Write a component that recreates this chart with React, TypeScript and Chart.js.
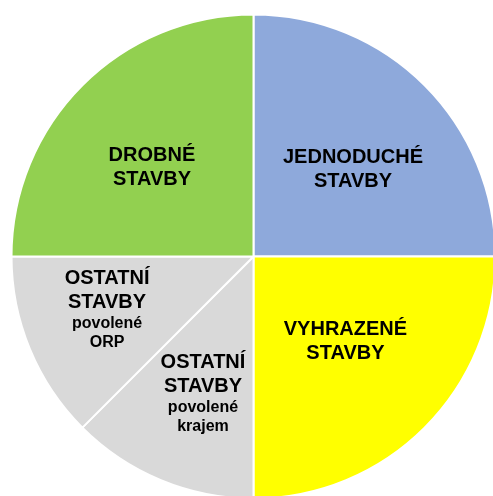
import React, { useEffect, useRef } from "react";
import { Chart, registerables } from "chart.js";

Chart.register(...registerables);

const categories = [
  "JEDNODUCHÉ STAVBY",
  "VYHRAZENÉ STAVBY",
  "OSTATNÍ STAVBY povolené krajem",
  "OSTATNÍ STAVBY povolené ORP",
  "DROBNÉ STAVBY",
];
const shares = [25, 25, 12.5, 12.5, 25];
const sliceColors = ["#8EA9DB", "#FFFF00", "#D9D9D9", "#D9D9D9", "#92D050"];
const mainLines = [
  ["JEDNODUCHÉ", "STAVBY"],
  ["VYHRAZENÉ", "STAVBY"],
  ["OSTATNÍ", "STAVBY"],
  ["OSTATNÍ", "STAVBY"],
  ["DROBNÉ", "STAVBY"],
];
const subLines = [[], [], ["povolené", "krajem"], ["povolené", "ORP"], []];

// label placement tweaks: [angle shift in degrees, fraction of radius]
const placement: [number, number][] = [
  [3.5, 0.549],
  [-2.9, 0.512],
  [-2.1, 0.599],
  [3.0, 0.642],
  [-3.3, 0.562],
];

const labelPlugin = {
  id: "sliceLabels",
  afterDatasetsDraw(chart: any) {
    const ctx = chart.ctx;
    const meta = chart.getDatasetMeta(0);
    meta.data.forEach((arc: any, i: number) => {
      const { x, y, startAngle, endAngle, outerRadius } = arc.getProps(
        ["x", "y", "startAngle", "endAngle", "outerRadius"],
        true
      );
      const [dDeg, frac] = placement[i];
      const a = (startAngle + endAngle) / 2 + (dDeg * Math.PI) / 180;
      const cx = x + Math.cos(a) * outerRadius * frac;
      const cy = y + Math.sin(a) * outerRadius * frac;
      const lines: { t: string; size: number; base: number }[] = [];
      const mains = mainLines[i];
      const subs = subLines[i];
      const mainOffsets = [14, 38];
      mains.forEach((t, k) => lines.push({ t, size: 20, base: mainOffsets[k] }));
      const subOffsets = [58, 77];
      subs.forEach((t, k) => lines.push({ t, size: 16, base: subOffsets[k] }));
      const height = lines[lines.length - 1].base;
      const top = cy - height / 2;
      ctx.save();
      ctx.fillStyle = "#000000";
      ctx.textAlign = "center";
      ctx.textBaseline = "alphabetic";
      lines.forEach((l) => {
        ctx.font = `bold ${l.size}px "Liberation Sans", Arial, sans-serif`;
        ctx.fillText(l.t, cx, top + l.base);
      });
      ctx.restore();
    });
  },
};

export default function App() {
  const ref = useRef<HTMLCanvasElement | null>(null);
  useEffect(() => {
    if (!ref.current) return;
    const chart = new Chart(ref.current, {
      type: "pie",
      data: {
        labels: categories,
        datasets: [
          {
            data: shares,
            backgroundColor: sliceColors,
            borderColor: "#FFFFFF",
            borderWidth: 2,
            radius: 242,
          } as any,
        ],
      },
      options: {
        responsive: false,
        animation: false,
        devicePixelRatio: 1,
        layout: { padding: 0 },
        plugins: {
          legend: { display: false },
          tooltip: { enabled: false },
          title: { display: false },
        },
      },
      plugins: [labelPlugin],
    });
    return () => chart.destroy();
  }, []);
  return (
    <div style={{ position: "fixed", left: 0, top: 0, width: 507, height: 513, background: "#fff" }}>
      <canvas ref={ref} width={507} height={513} style={{ display: "block" }} />
    </div>
  );
}
